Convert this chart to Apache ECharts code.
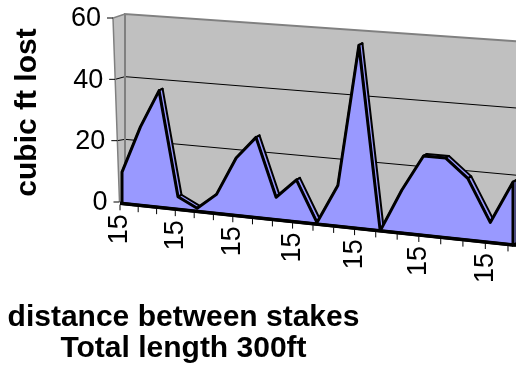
<!DOCTYPE html>
<html><head><meta charset="utf-8">
<script src="https://cdn.jsdelivr.net/npm/echarts@6/dist/echarts.min.js"></script>
<style>html,body{margin:0;padding:0;background:#fff}#c{width:516px;height:377px}</style>
</head><body><div id="c"></div>
<script>
// ---- data ----
const categories = ['15','15','15','15','15','15','15','15','15','15','15','15','15','15','15','15','15','15','15','15'];
const lossValues = [10, 25, 37, 4, 1, 6, 18, 25, 7, 13, 0.5, 12.5, 56, 0, 13, 24, 24, 18.5, 6, 18.7];
const yTickValues = [0, 20, 40, 60];
const xLabelStep = 3;
const xTitleLines = ['distance between stakes', 'Total length 300ft'];
const yTitle = 'cubic ft lost';

// ---- style ----
const FONT = '"Liberation Sans", Arial, sans-serif';
const AREA = '#9999ff', WALL = '#c0c0c0', EDGE = '#808080';
const BACK = [3, -1.5];   // depth offset of the back wall
const DEPTH = [3.5, -2];  // depth of the area ribbon

function renderItem(params, api) {
  if (params.dataIndex !== 0) return null;
  const cs = params.coordSys;
  const n = categories.length;
  const base = cs.y + cs.height;
  const yMax = yTickValues[yTickValues.length - 1];
  // simple perspective projection of the library's cartesian coordinates
  const persp = (p, dx, dy) => {
    const u = (p[0] - cs.x) / cs.width;
    const t = (base - p[1]) / cs.height;
    const X = cs.x + cs.width * (0.8895 * u + 0.1105 * u * u);
    const Y0 = base + 1.5 + 0.106 * (X - cs.x);
    const H = (cs.height + 4) * (1 + 0.0745 * (X - cs.x) / cs.width);
    return [X + (dx || 0), Y0 - t * H + (dy || 0)];
  };
  const proj = (i, v, off) => persp(api.coord([i, v]), off ? off[0] : 0, off ? off[1] : 0);
  const axisPt = (v) => {
    const p = api.coord([0, v]);
    const t = (base - p[1]) / cs.height;
    return [cs.x - 2.5 - 6.5 * t, p[1]];
  };
  const add = (p, d) => [p[0] + d[0], p[1] + d[1]];
  const ch = [];

  // back wall
  ch.push({type: 'polygon', shape: {points: [proj(0, yMax, BACK), proj(n - 1, yMax, BACK), add(proj(n - 1, 0, BACK), [10, 0]), proj(0, 0, BACK)]},
    style: {fill: WALL, stroke: null}});
  // left wall
  ch.push({type: 'polygon', shape: {points: [axisPt(yMax), proj(0, yMax, BACK), proj(0, 0, BACK), axisPt(0)]},
    style: {fill: WALL, stroke: null}});
  // gridlines
  yTickValues.forEach(v => {
    if (v === 0 || v === yMax) return;
    ch.push({type: 'polyline', shape: {points: [axisPt(v), proj(0, v, BACK), add(proj(n - 1, v, BACK), [10, 0])]},
      style: {stroke: '#000', lineWidth: 1, fill: null}});
  });
  // wall edges
  ch.push({type: 'polyline', shape: {points: [proj(0, 0, BACK), proj(0, yMax, BACK), add(proj(n - 1, yMax, BACK), [10, 0.6])]},
    style: {stroke: EDGE, lineWidth: 2, fill: null}});
  ch.push({type: 'polyline', shape: {points: [axisPt(0), axisPt(yMax), proj(0, yMax, BACK)]},
    style: {stroke: EDGE, lineWidth: 1.5, fill: null}});
  // y ticks and labels
  yTickValues.forEach(v => {
    const a = axisPt(v);
    ch.push({type: 'line', shape: {x1: a[0] - 6, y1: a[1], x2: a[0], y2: a[1]}, style: {stroke: '#000', lineWidth: 1}});
    ch.push({type: 'text', x: a[0] - 12, y: a[1] + 1,
      style: {text: String(v), fill: '#000', fontSize: 27, fontFamily: FONT, align: 'right', verticalAlign: 'middle'}});
  });

  // area ribbon (top faces)
  const F = lossValues.map((v, i) => proj(i, v));
  for (let i = 0; i < n - 1; i++) {
    ch.push({type: 'polygon', shape: {points: [F[i], F[i + 1], add(F[i + 1], DEPTH), add(F[i], DEPTH)]},
      style: {fill: AREA, stroke: '#000', lineWidth: 2, lineJoin: 'round'}});
  }
  const bL = proj(0, 0), bR = proj(n - 1, 0);
  ch.push({type: 'polygon', shape: {points: [F[n - 1], bR, add(bR, DEPTH), add(F[n - 1], DEPTH)]},
    style: {fill: AREA, stroke: '#000', lineWidth: 2}});
  // front face
  ch.push({type: 'polygon', shape: {points: [bL].concat(F, [bR])},
    style: {fill: AREA, stroke: '#000', lineWidth: 3, lineJoin: 'round'}});
  // floor front edge
  ch.push({type: 'line', shape: {x1: bL[0] - 2, y1: bL[1] - 0.2, x2: bR[0] + 3, y2: bR[1] + 0.3},
    style: {stroke: '#000', lineWidth: 3.5}});

  // x ticks and labels
  categories.forEach((c, i) => {
    const p = api.coord([i, 0]);
    const u = (p[0] - cs.x) / cs.width;
    const Xt = cs.x - 2 + cs.width * (0.8772 * u + 0.1151 * u * u);
    const Yt = base + 1.5 + 0.106 * (Xt - cs.x);
    ch.push({type: 'line', shape: {x1: Xt, y1: Yt + 1.5, x2: Xt, y2: Yt + 7}, style: {stroke: '#000', lineWidth: 1}});
    if (i % xLabelStep === 0) {
      ch.push({type: 'text', x: Xt, y: Yt + 11, rotation: Math.PI / 2,
        style: {text: c, fill: '#000', fontSize: 27, fontFamily: FONT, align: 'right', verticalAlign: 'middle'}});
    }
  });
  return {type: 'group', children: ch};
}

const chart = echarts.init(document.getElementById('c'), null, {renderer: 'canvas'});
chart.setOption({
  animation: false,
  backgroundColor: '#fff',
  grid: {left: 122, top: 18, width: 391, height: 184},
  xAxis: {type: 'category', data: categories, boundaryGap: false, show: false},
  yAxis: {type: 'value', min: 0, max: 60, interval: 20, show: false},
  series: [{type: 'custom', data: [0], renderItem: renderItem, clip: false, silent: true}],
  graphic: [
    {type: 'text', x: 28, y: 112.5, rotation: Math.PI / 2,
      style: {text: yTitle, fill: '#000', fontSize: 30, fontWeight: 'bold', fontFamily: FONT, align: 'center', verticalAlign: 'middle'}},
    {type: 'text', x: 183.5, y: 302,
      style: {text: xTitleLines.join('\n'), fill: '#000', fontSize: 30, lineHeight: 31, fontWeight: 'bold', fontFamily: FONT, align: 'center', verticalAlign: 'top'}}
  ]
});
</script></body></html>
